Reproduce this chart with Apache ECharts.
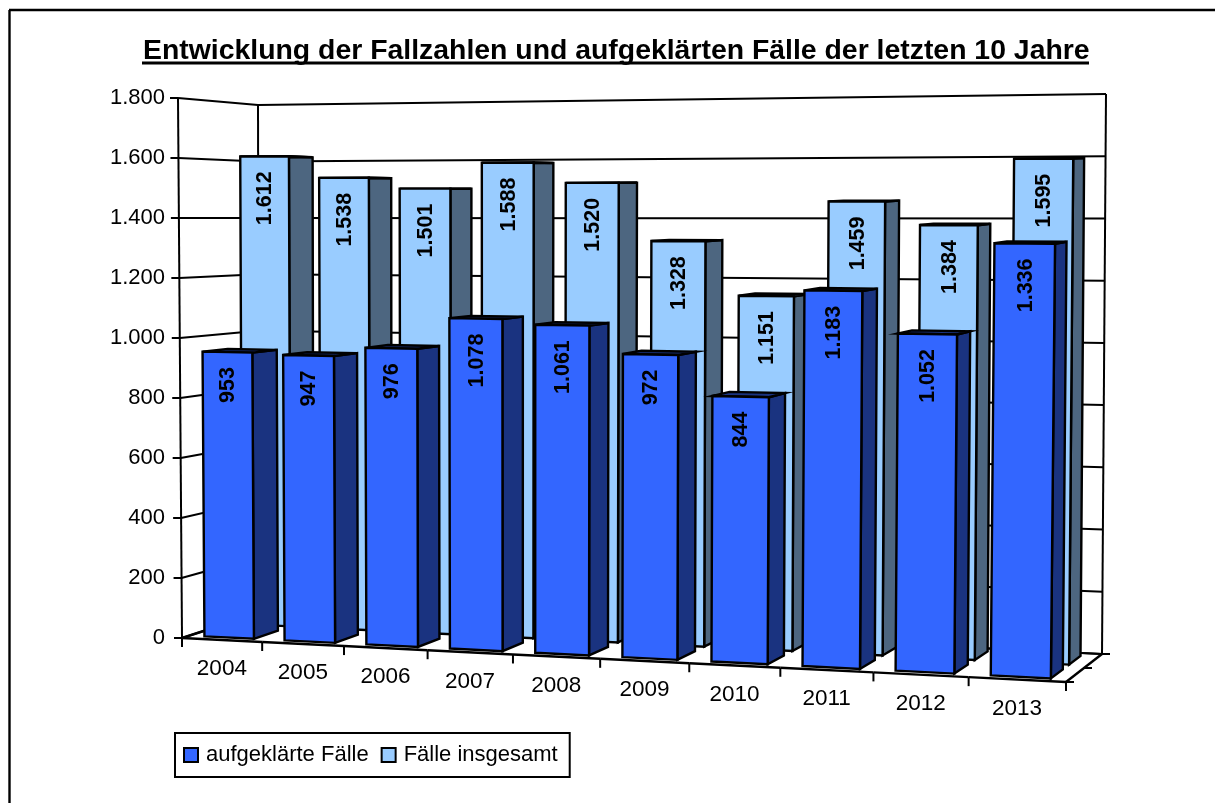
<!DOCTYPE html>
<html>
<head>
<meta charset="utf-8">
<style>
html, body { margin: 0; padding: 0; background: #fff; }
#chart { width: 1215px; height: 803px; }
</style>
<script src="https://cdn.jsdelivr.net/npm/echarts@6/dist/echarts.min.js"></script>
</head>
<body>
<div id="chart"></div>
<script>
var years = ['2004', '2005', '2006', '2007', '2008', '2009', '2010', '2011', '2012', '2013'];
var aufgeklaert = [953, 947, 976, 1078, 1061, 972, 844, 1183, 1052, 1336];
var insgesamt = [1612, 1538, 1501, 1588, 1520, 1328, 1151, 1459, 1384, 1595];
var yTicks = [0, 200, 400, 600, 800, 1000, 1200, 1400, 1600, 1800];

var FONT = '"Liberation Sans", Arial, sans-serif';

// corners of the 3d box on screen, [front, back] x [bottom, top]
var box = {
    fbl: [182, 638], fbr: [1066, 682], ftl: [178, 98], ftr: [1072, 92.5],
    bbl: [259, 613], bbr: [1102, 654], btl: [258, 105], btr: [1106, 94]
};
var widthPersp = 1.114;

function lerp(a, b, t) { return a + (b - a) * t; }

// u 0..1 along the categories, v 0..1 up, d 0..1 into the picture
function project(u, v, d) {
    var s = u / (u + widthPersp * (1 - u));
    var out = [];
    for (var i = 0; i < 2; i++) {
        var fb = lerp(box.fbl[i], box.fbr[i], s);
        var ft = lerp(box.ftl[i], box.ftr[i], s);
        var bb = lerp(box.bbl[i], box.bbr[i], s);
        var bt = lerp(box.btl[i], box.btr[i], s);
        out.push(lerp(lerp(fb, ft, v), lerp(bb, bt, v), d));
    }
    return out;
}

function fmt(n) {
    return String(n).replace(/\B(?=(\d{3})+$)/g, '.');
}

function poly(pts, fill, lw) {
    return {
        type: 'polygon',
        shape: { points: pts },
        style: { fill: fill, stroke: '#000', lineWidth: lw, lineJoin: 'miter' }
    };
}

function line(a, b, lw) {
    return {
        type: 'line',
        shape: { x1: a[0], y1: a[1], x2: b[0], y2: b[1] },
        style: { stroke: '#000', lineWidth: lw || 2, fill: null }
    };
}

// bars for one series, d0/d1 = depth of the front and back face
function barRenderer(d0, d1, front, side, top) {
    return function (params, api) {
        var cs = params.coordSys;
        var c = api.coord([api.value(0), api.value(1)]);
        var band = api.size([1, 0])[0];
        var u0 = (c[0] - band * 0.31 - cs.x) / cs.width;
        var u1 = (c[0] + band * 0.31 - cs.x) / cs.width;
        var um = (c[0] - cs.x) / cs.width;
        var v = (cs.y + cs.height - c[1]) / cs.height;
        var lab = project(um, v, d0);
        return {
            type: 'group',
            children: [
                poly([project(u1, 0, d0), project(u1, v, d0), project(u1, v, d1), project(u1, 0, d1)], side, 2.4),
                poly([project(u0, v, d0), project(u1, v, d0), project(u1, v, d1), project(u0, v, d1)], top, 2.4),
                poly([project(u0, 0, d0), project(u1, 0, d0), project(u1, v, d0), project(u0, v, d0)], front, 2.4),
                {
                    type: 'text',
                    x: lab[0] + 1,
                    y: lab[1] + 15,
                    rotation: Math.PI / 2,
                    style: {
                        text: fmt(api.value(1)),
                        font: 'bold 21.5px ' + FONT,
                        fill: '#000',
                        align: 'right',
                        verticalAlign: 'middle'
                    }
                }
            ]
        };
    };
}

// gridlines on the side and back wall, one per y tick
function renderGrid(params, api) {
    var cs = params.coordSys;
    var c = api.coord([0, api.value(0)]);
    var v = (cs.y + cs.height - c[1]) / cs.height;
    var a = project(0, v, 0);
    var b = project(0, v, 1);
    var e = project(1, v, 1);
    return {
        type: 'group',
        children: [
            line([a[0] - 8, a[1]], a),
            line(a, b),
            line(b, e)
        ]
    };
}

// frame edges plus the ticks and labels under the front edge
function renderFloor(params, api) {
    var cs = params.coordSys;
    var c = api.coord([api.value(0), 0]);
    var band = api.size([1, 0])[0];
    var u0 = (c[0] - band / 2 - cs.x) / cs.width;
    var u1 = (c[0] + band / 2 - cs.x) / cs.width;
    var um = (c[0] - cs.x) / cs.width;
    var p0 = project(u0, 0, 0);
    var p1 = project(u1, 0, 0);
    var pm = project(um, 0, 0);
    var children = [
        line(p0, p1, 2.4),
        line(project(u0, 0, 1), project(u1, 0, 1)),
        line(p1, [p1[0], p1[1] + 9])
    ];
    if (params.dataIndex === 0) {
        children.push(line(p0, [p0[0], p0[1] + 9]));
        children.push(line(project(0, 0, 0), project(0, 1, 0)));
        children.push(line(project(0, 0, 1), project(0, 1, 1)));
        children.push(line(project(1, 0, 1), project(1, 1, 1)));
        children.push(line(project(0, 0, 0), project(0, 0, 1), 2.4));
        children.push(line(project(1, 0, 0), project(1, 0, 1), 2.4));
        [0, 0.5, 1].forEach(function (d) {
            var p = project(1, 0, d);
            children.push(line(p, [p[0] + 8, p[1]]));
        });
    }
    children.push({
        type: 'text',
        x: pm[0],
        y: pm[1] + 29,
        style: {
            text: years[params.dataIndex],
            font: '22.5px ' + FONT,
            fill: '#000',
            align: 'center',
            verticalAlign: 'middle'
        }
    });
    return { type: 'group', children: children };
}

var option = {
    animation: false,
    backgroundColor: '#fff',
    title: {
        text: 'Entwicklung der Fallzahlen und aufgeklärten Fälle der letzten 10 Jahre',
        left: 138,
        top: 32,
        textStyle: { fontFamily: FONT, fontWeight: 'bold', fontSize: 28.4, color: '#000' }
    },
    legend: {
        left: 175,
        top: 733,
        orient: 'horizontal',
        data: [
            { name: 'aufgeklärte Fälle', icon: 'rect', itemStyle: { color: '#3366ff', borderColor: '#000', borderWidth: 2 } },
            { name: 'Fälle insgesamt', icon: 'rect', itemStyle: { color: '#99ccff', borderColor: '#000', borderWidth: 2 } }
        ],
        itemWidth: 14,
        itemHeight: 14,
        itemGap: 12,
        padding: [11, 12, 11, 8],
        borderColor: '#000',
        borderWidth: 2,
        selectedMode: false,
        textStyle: { fontFamily: FONT, fontSize: 22, color: '#000', padding: [0, 0, 0, 3] }
    },
    grid: { left: 178, top: 98, width: 888, height: 540, containLabel: false },
    xAxis: {
        type: 'category',
        data: years,
        axisLine: { show: false },
        axisTick: { show: false },
        axisLabel: { show: false }
    },
    yAxis: {
        type: 'value',
        min: 0,
        max: 1800,
        interval: 200,
        axisLine: { show: false },
        axisTick: { show: false },
        splitLine: { show: false },
        axisLabel: {
            margin: 13,
            fontFamily: FONT,
            fontSize: 22,
            color: '#000',
            formatter: function (val) { return fmt(val); }
        }
    },
    series: [
        {
            name: 'grid',
            type: 'custom',
            coordinateSystem: 'cartesian2d',
            renderItem: renderGrid,
            encode: { y: 0 },
            data: yTicks.map(function (t) { return [t]; }),
            silent: true,
            z: 1
        },
        {
            name: 'floor',
            type: 'custom',
            coordinateSystem: 'cartesian2d',
            renderItem: renderFloor,
            encode: { x: 0 },
            data: years.map(function (y, i) { return [i, 0]; }),
            silent: true,
            z: 2
        },
        {
            name: 'Fälle insgesamt',
            type: 'custom',
            coordinateSystem: 'cartesian2d',
            renderItem: barRenderer(0.59, 0.9, '#99ccff', '#4d6680', '#7399bf'),
            encode: { x: 0, y: 1 },
            data: insgesamt.map(function (v, i) { return [i, v]; }),
            itemStyle: { color: '#99ccff' },
            silent: true,
            z: 3
        },
        {
            name: 'aufgeklärte Fälle',
            type: 'custom',
            coordinateSystem: 'cartesian2d',
            renderItem: barRenderer(0.096, 0.42, '#3366ff', '#1a3380', '#1a3380'),
            encode: { x: 0, y: 1 },
            data: aufgeklaert.map(function (v, i) { return [i, v]; }),
            itemStyle: { color: '#3366ff' },
            silent: true,
            z: 4
        }
    ],
    graphic: [
        { type: 'line', shape: { x1: 9.5, y1: 10, x2: 9.5, y2: 803 }, style: { stroke: '#000', lineWidth: 2.4 }, silent: true },
        { type: 'line', shape: { x1: 9, y1: 10, x2: 1215, y2: 10 }, style: { stroke: '#000', lineWidth: 2.4 }, silent: true },
        { type: 'line', shape: { x1: 142, y1: 63, x2: 1089, y2: 63 }, style: { stroke: '#000', lineWidth: 3 }, silent: true }
    ]
};

var myChart = echarts.init(document.getElementById('chart'));
myChart.setOption(option);
</script>
</body>
</html>
